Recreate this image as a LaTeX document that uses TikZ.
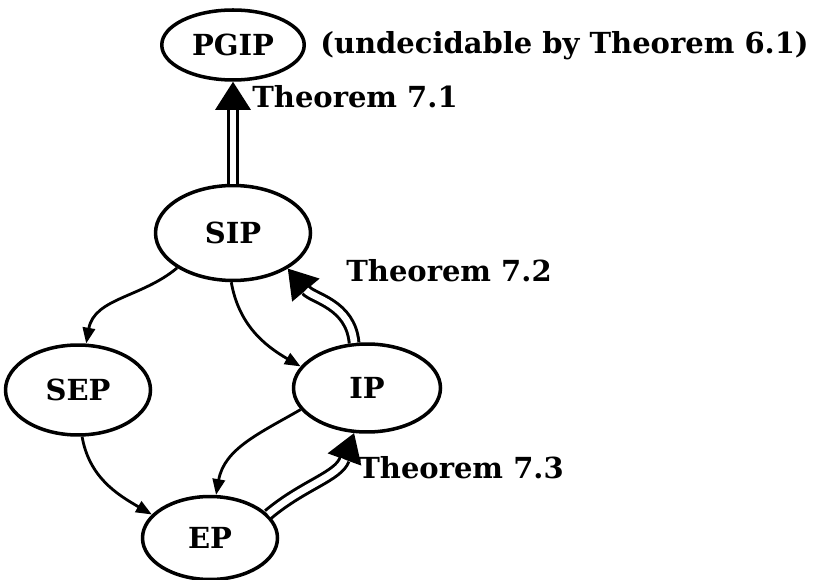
\documentclass[tikz,border=0pt]{standalone}
\usepackage{fontspec}
\setmainfont{DejaVu Serif}
\usetikzlibrary{arrows.meta,shapes.geometric}

\begin{document}
\begin{tikzpicture}[x=0.02cm,y=-0.02cm,font=\fontsize{16.5}{20}\selectfont\bfseries,
    state/.style={draw, ellipse, line width=2pt, inner sep=0pt},
    impl/.style={line width=1.6pt, -{Triangle[length=9pt,width=7pt]}},
    thmtip/.style={line width=1.7pt, -{Triangle[length=16pt,width=20pt]}},
    thmline/.style={double, double distance=3.8pt, line width=1.7pt, shorten >=16pt},
    label/.style={anchor=base west, inner sep=0pt}]
    \useasboundingbox (0,0) rectangle (814,580);

    % Properties
    \node[state, minimum width=2.85cm, minimum height=1.4cm] (pgip) at (233,45) {PGIP};
    \node[state, minimum width=3.1cm, minimum height=1.9cm] (sip) at (233,233) {SIP};
    \node[state, minimum width=2.9cm, minimum height=1.8cm] (sep) at (78,390) {SEP};
    \node[state, minimum width=2.94cm, minimum height=1.76cm] (ip) at (367,388) {IP};
    \node[state, minimum width=2.7cm, minimum height=1.66cm] (ep) at (210,538) {EP};

    % Labels
    \node[label] (undec) at (320,54) {(undecidable by Theorem 6.1)};
    \node[label] (thmA) at (252,108) {Theorem 7.1};
    \node[label] (thmB) at (346,282) {Theorem 7.2};
    \node[label] (thmC) at (358,478) {Theorem 7.3};

    % Single implications
    \draw[impl] (sip.212) to[out=220,in=80] (sep.80);
    \draw[impl] (sip.268) to[out=-80,in=150] (ip.162);
    \draw[impl] (ip.198) to[out=210,in=80] (ep.82);
    \draw[impl] (sep.-85) to[out=-80,in=150] (ep.158);

    % Theorems (double arrows)
    \draw[thmtip] (sip) -- (pgip);
    \draw[thmline] (sip) -- (pgip);
    \draw[thmtip] (ip.106) to[out=95,in=-50] (sip.-33);
    \draw[thmline] (ip.106) to[out=95,in=-50] (sip.-33);
    \draw[thmtip] (ep.22) to[out=40,in=-110] (ip.-106);
    \draw[thmline] (ep.22) to[out=40,in=-110] (ip.-106);
\end{tikzpicture}
\end{document}
